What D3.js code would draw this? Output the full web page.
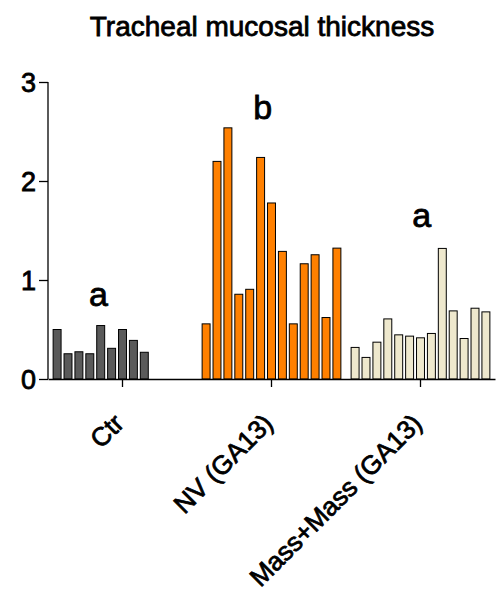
<!DOCTYPE html>
<html>
<head>
<meta charset="utf-8">
<script src="https://cdn.jsdelivr.net/npm/d3@7"></script>
<style>
	body { margin: 0; background: #fff; }
	svg { display: block; }
	text { font-family: 'Liberation Sans', Arial, sans-serif; fill: #000; stroke: #000; stroke-width: 0.8px; }
</style>
</head>
<body>
<div id="chart"></div>
<script>
//===== DATA =====//

var groups = ['Ctr', 'NV (GA13)', 'Mass+Mass (GA13)'];
var ctrValues = [0.50, 0.255, 0.275, 0.255, 0.54, 0.31, 0.50, 0.39, 0.27];
var nvValues = [0.557, 2.198, 2.537, 0.856, 0.906, 2.238, 1.778, 1.289, 0.557, 1.164, 1.255, 0.621, 1.322];
var massValues = [0.319, 0.218, 0.372, 0.607, 0.446, 0.433, 0.416, 0.46, 1.319, 0.688, 0.409, 0.715, 0.678];
var yTicks = [0, 1, 2, 3];
var letters = ['a', 'b', 'a'];
var letterSlot = [3.8, 5.2, 6.1];
var letterValue = [0.74, 2.63, 1.54];
var colors = ['#5a5a5a', '#ff8000', '#eee8cd'];

//===== CHART =====//

var width = 502, height = 593;
var margin = {left: 48, right: 7, top: 82, bottom: 214};
var slots = 13;

var svg = d3.select('#chart')
	.append('svg')
	.attr('width', width)
	.attr('height', height);

var x = d3.scaleBand()
	.domain(groups)
	.range([margin.left, width - margin.right]);

var inner = d3.scaleBand()
	.domain(d3.range(slots))
	.range([0, x.bandwidth()])
	.paddingInner(0.27)
	.paddingOuter(0.47);

var y = d3.scaleLinear()
	.domain([0, 3])
	.range([height - margin.bottom, margin.top]);

var series = [ctrValues, nvValues, massValues];

// bars, one per replicate
series.forEach(function (values, gi) {
	svg.append('g')
		.selectAll('rect')
		.data(values)
		.enter()
		.append('rect')
		.attr('x', function (d, i) { return x(groups[gi]) + inner(i); })
		.attr('y', function (d) { return y(d); })
		.attr('width', inner.bandwidth())
		.attr('height', function (d) { return y(0) - y(d); })
		.attr('fill', colors[gi])
		.attr('stroke', '#000')
		.attr('stroke-width', 1);
});

// y axis
var yAxis = svg.append('g')
	.attr('transform', 'translate(' + margin.left + ',0)')
	.call(d3.axisLeft(y).tickValues(yTicks).tickFormat(d3.format('d')).tickSize(9).tickPadding(3));
yAxis.select('.domain').attr('stroke-width', 1.3).attr('d', 'M0,' + y(3) + 'V' + y(0));
yAxis.selectAll('.tick line').attr('stroke-width', 1.3);
yAxis.selectAll('.tick text').attr('font-size', 27).attr('font-family', null).attr('dy', '0.36em');

// x axis
var xAxis = svg.append('g')
	.attr('transform', 'translate(0,' + y(0) + ')')
	.call(d3.axisBottom(x).tickSize(8).tickSizeOuter(0));
xAxis.select('.domain').attr('stroke-width', 1.3);
xAxis.selectAll('.tick line').attr('stroke-width', 1.3);
xAxis.selectAll('.tick text')
	.attr('font-size', 26)
	.attr('font-family', null)
	.attr('text-anchor', 'end')
	.attr('dy', null)
	.attr('y', 0)
	.attr('transform', 'translate(3,46) rotate(-45)');

// significance letters
svg.append('g')
	.selectAll('text')
	.data(letters)
	.enter()
	.append('text')
	.attr('x', function (d, i) { return x(groups[i]) + inner(0) + inner.step() * letterSlot[i] + inner.bandwidth() / 2; })
	.attr('y', function (d, i) { return y(letterValue[i]); })
	.attr('text-anchor', 'middle')
	.attr('font-size', 34)
	.text(function (d) { return d; });

// title
svg.append('text')
	.attr('x', 262)
	.attr('y', 36)
	.attr('text-anchor', 'middle')
	.attr('font-size', 28)
	.text('Tracheal mucosal thickness');
</script>
</body>
</html>
